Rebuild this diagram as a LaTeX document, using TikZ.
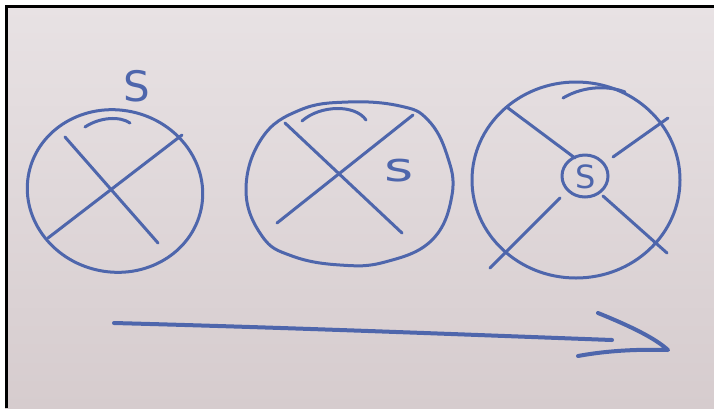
\documentclass[tikz,border=0pt]{standalone}
\usepackage{fontspec}
\setsansfont{DejaVu Sans}
\begin{document}
\begin{tikzpicture}[x=1pt,y=-1pt,
  ink/.style={draw=inkblue,line width=3pt,line cap=round,line join=round},
  thickink/.style={draw=inkblue,line width=4pt,line cap=round,line join=round},
  letter/.style={text=inkblue,font=\sffamily,inner sep=0pt}]
\definecolor{inkblue}{RGB}{78,102,172}
\definecolor{paperTop}{RGB}{232,226,228}
\definecolor{paperBot}{RGB}{214,204,206}
\useasboundingbox (0,0) rectangle (714,408);
\fill[white] (0,0) rectangle (714,408);
\shade[top color=paperTop,bottom color=paperBot] (5,5) rectangle (714,408);
\draw[black,line width=3pt] (6.5,408) -- (6.5,6.5) -- (714,6.5);

% ---- first circle ----
\draw[ink,rotate around={-12:(115,191)}] (115,191) ellipse [x radius=88,y radius=81];
\draw[ink] (65,137) -- (158,243);
\draw[ink] (182,135) -- (48,238);
\draw[ink] (85,127) .. controls (100,117) and (120,116) .. (130,123);
\node[letter,font=\sffamily\fontsize{42}{42}\selectfont] (s1) at (137,86) {S};

% ---- second circle ----
\draw[ink] plot[smooth cycle,tension=0.7] coordinates {(246,190) (262,138) (300,110) (348,102) (400,106) (428,120) (447,155) (452,195) (432,240) (385,262) (340,265) (292,256) (262,236)};
\draw[ink] (285,123) -- (402,233);
\draw[ink] (413,115) -- (277,223);
\draw[ink] (302,121) .. controls (320,105) and (355,104) .. (366,120);
\node[letter,font=\sffamily\fontsize{40}{40}\selectfont,xscale=1.4] (s2) at (399,171) {s};

% ---- third circle ----
\draw[ink] (576,180) ellipse [x radius=104,y radius=98];
\draw[ink] (563,98) .. controls (585,85) and (610,86) .. (625,92);
\draw[ink] (585,176) ellipse [x radius=23,y radius=21];
\node[letter,font=\sffamily\fontsize{32}{32}\selectfont] (s3) at (586,177) {S};
\draw[ink] (508,108) -- (575,158);
\draw[ink] (613,157) -- (668,118);
\draw[ink] (560,198) -- (490,268);
\draw[ink] (603,196) -- (667,253);

% ---- arrow ----
\coordinate (astart) at (114,323);
\coordinate (aend) at (612,340);
\coordinate (htop) at (598,313);
\coordinate (htip) at (668,350);
\coordinate (hbot) at (578,356);
\draw[thickink] (astart) .. controls (300,328) and (450,334) .. (aend);
\draw[thickink] (htop) .. controls (630,326) and (655,338) .. (htip) .. controls (635,349) and (605,351) .. (hbot);
\end{tikzpicture}
\end{document}
